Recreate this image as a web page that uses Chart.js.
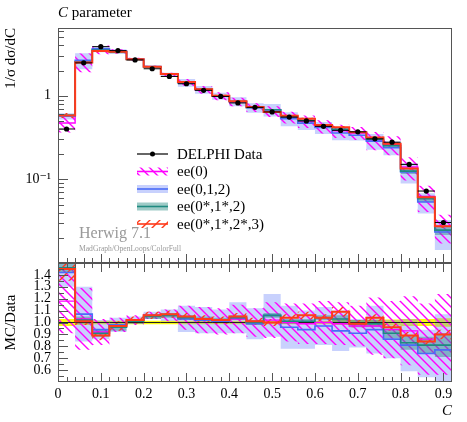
<!DOCTYPE html>
<html>
<head>
<meta charset="utf-8">
<script src="https://cdn.jsdelivr.net/npm/chart.js@4.4.1/dist/chart.umd.min.js"></script>
<style>
html, body { margin: 0; padding: 0; background: #fff; }
#wrap { position: relative; width: 467px; height: 422px; }
#wrap canvas { position: absolute; left: 0; top: 0; }
</style>
</head>
<body>
<div id="wrap">
  <canvas id="mainChart" width="467" height="422"></canvas>
  <canvas id="ratioChart" width="467" height="422"></canvas>
</div>
<script>
// bins of the C parameter histogram
const binEdges = [0, 0.04, 0.08, 0.12, 0.16, 0.20, 0.24, 0.28, 0.32, 0.36, 0.40, 0.44,
                  0.48, 0.52, 0.56, 0.60, 0.64, 0.68, 0.72, 0.76, 0.80, 0.84, 0.88, 0.92];
const xTickLabels = [0, 0.1, 0.2, 0.3, 0.4, 0.5, 0.6, 0.7, 0.8, 0.9];
const mainTickLabels = [0.1, 1];
const ratioTickLabels = [0.6, 0.7, 0.8, 0.9, 1.0, 1.1, 1.2, 1.3, 1.4];

// DELPHI data, 1/sigma dsigma/dC, and relative error
const delphi = [0.40, 2.47, 3.86, 3.46, 2.68, 2.10, 1.70, 1.39, 1.16, 0.98, 0.82, 0.726,
                0.64, 0.555, 0.50, 0.43, 0.385, 0.37, 0.305, 0.278, 0.151, 0.0725, 0.0305];
const delphiErr = [0.03, 0.02, 0.015, 0.015, 0.015, 0.015, 0.015, 0.015, 0.015, 0.015, 0.015, 0.015,
                   0.015, 0.015, 0.015, 0.015, 0.02, 0.02, 0.025, 0.025, 0.03, 0.03, 0.035];

// MC / Data ratios and their band half widths
const ee0 = [1.18, 1.03, 0.92, 0.98, 1.02, 1.06, 1.06, 1.04, 1.02, 1.01, 1.03, 1.00,
             1.02, 1.00, 0.99, 1.00, 0.99, 0.97, 0.97, 0.94, 0.93, 0.86, 0.90];
const ee0Err = [0.27, 0.26, 0.11, 0.06, 0.04, 0.03, 0.05, 0.10, 0.11, 0.11, 0.12, 0.12,
                0.15, 0.16, 0.17, 0.18, 0.18, 0.17, 0.24, 0.24, 0.29, 0.30, 0.34];
const ee012 = [1.42, 1.07, 0.94, 0.98, 1.02, 1.06, 1.06, 1.03, 1.02, 1.01, 1.04, 0.99,
               1.06, 0.96, 0.94, 0.97, 0.93, 0.91, 0.94, 0.86, 0.81, 0.74, 0.77];
const ee012Err = [0.12, 0.23, 0.08, 0.06, 0.03, 0.03, 0.05, 0.11, 0.11, 0.10, 0.13, 0.13,
                  0.18, 0.18, 0.16, 0.16, 0.17, 0.12, 0.20, 0.16, 0.22, 0.20, 0.30];
const ee012s = [1.46, 1.02, 0.91, 0.96, 1.01, 1.05, 1.06, 1.04, 1.03, 1.02, 1.04, 1.00,
                1.06, 1.01, 1.01, 1.04, 1.03, 0.99, 0.99, 0.91, 0.83, 0.81, 0.81];
const ee012sErr = [0.04, 0.03, 0.03, 0.03, 0.02, 0.02, 0.02, 0.02, 0.02, 0.02, 0.02, 0.02,
                   0.02, 0.02, 0.02, 0.02, 0.03, 0.03, 0.03, 0.04, 0.06, 0.07, 0.10];
const ee0123 = [1.45, 1.01, 0.89, 0.97, 1.02, 1.06, 1.07, 1.05, 1.03, 1.02, 1.05, 1.01,
                1.00, 1.04, 1.06, 1.04, 1.09, 0.99, 1.04, 0.96, 0.89, 0.84, 0.90];
const ee0123Err = [0.10, 0.03, 0.04, 0.04, 0.03, 0.03, 0.03, 0.03, 0.03, 0.03, 0.03, 0.03,
                   0.03, 0.03, 0.03, 0.03, 0.04, 0.03, 0.03, 0.03, 0.03, 0.03, 0.04];

const FONT = "'Liberation Serif', 'DejaVu Serif', serif";
const magenta = '#ff00ff';
const blue = '#4a6cf7';
const blueBand = 'rgba(110, 135, 250, 0.38)';
const teal = '#1e8a80';
const tealBand = 'rgba(40, 140, 130, 0.45)';
const red = '#ff3a1a';

function hatch(ctx, color, dir, size, lw) {
    const c = document.createElement('canvas');
    c.width = size; c.height = size;
    const g = c.getContext('2d');
    g.strokeStyle = color;
    g.lineWidth = lw;
    g.beginPath();
    if (dir > 0) { // "/"
        g.moveTo(0, size); g.lineTo(size, 0);
        g.moveTo(-2, 2); g.lineTo(2, -2);
        g.moveTo(size - 2, size + 2); g.lineTo(size + 2, size - 2);
    } else { // "\"
        g.moveTo(0, 0); g.lineTo(size, size);
        g.moveTo(-2, size - 2); g.lineTo(2, size + 2);
        g.moveTo(size - 2, -2); g.lineTo(size + 2, 2);
    }
    g.stroke();
    return ctx.createPattern(c, 'repeat');
}

// step outline: value held flat across each bin
function steps(vals) {
    const pts = [];
    vals.forEach((v, i) => {
        pts.push({ x: binEdges[i], y: v });
        pts.push({ x: binEdges[i + 1], y: v });
    });
    return pts;
}

function stepLine(vals, color, width) {
    return { data: steps(vals), borderColor: color, borderWidth: width, pointRadius: 0, fill: false };
}

function band(centre, err, scale, fillStyle) {
    const hi = centre.map((c, i) => (c + err[i]) * scale[i]);
    const lo = centre.map((c, i) => (c - err[i]) * scale[i]);
    return [
        { data: steps(hi), borderColor: 'rgba(0,0,0,0)', borderWidth: 0, pointRadius: 0, fill: false },
        { data: steps(lo), borderColor: 'rgba(0,0,0,0)', borderWidth: 0, pointRadius: 0, fill: '-1', backgroundColor: fillStyle }
    ];
}

function dataBars(vals) {
    const pts = [];
    vals.forEach((v, i) => {
        const c = (binEdges[i] + binEdges[i + 1]) / 2;
        pts.push({ x: binEdges[i], y: v }, { x: c, y: v, dot: true }, { x: binEdges[i + 1], y: v }, { x: binEdges[i + 1], y: null });
    });
    return pts;
}

// rivet style frame with inward ticks
const frameTicks = {
    id: 'frameTicks',
    afterDraw(chart, args, opts) {
        const { ctx, chartArea: a, scales: { x, y } } = chart;
        ctx.save();
        ctx.strokeStyle = '#555';
        ctx.lineWidth = 1;
        ctx.strokeRect(Math.round(a.left) + 0.5, Math.round(a.top) + 0.5, Math.round(a.width) - 1, Math.round(a.height) - 1);
        const tick = (list, len, horiz) => {
            list.forEach(v => {
                if (horiz) {
                    const px = Math.round(x.getPixelForValue(v)) + 0.5;
                    ctx.beginPath();
                    ctx.moveTo(px, a.bottom); ctx.lineTo(px, a.bottom - len);
                    if (opts.topTicks) { ctx.moveTo(px, a.top); ctx.lineTo(px, a.top + len); }
                    ctx.stroke();
                } else {
                    const py = Math.round(y.getPixelForValue(v)) + 0.5;
                    ctx.beginPath();
                    ctx.moveTo(a.left, py); ctx.lineTo(a.left + len, py);
                    ctx.stroke();
                }
            });
        };
        tick(opts.xMajor, 9, true);
        tick(opts.xMinor, 5, true);
        tick(opts.yMajor, 10, false);
        tick(opts.yMinor, 6, false);
        ctx.restore();
    }
};

const xMinor = [];
for (let k = 1; k < 46; k++) if (k % 5) xMinor.push(k * 0.02);
const logMinor = [];
[0.01, 0.1, 1].forEach(d => { for (let m = 2; m <= 9; m++) if (d * m < 6.45) logMinor.push(d * m); });
const ratioMinor = [0.55, 0.65, 0.75, 0.85, 0.95, 1.05, 1.15, 1.25, 1.35, 1.45];

const mainCtx = document.getElementById('mainChart').getContext('2d');
const ratioCtx = document.getElementById('ratioChart').getContext('2d');
const magHatchMain = hatch(mainCtx, magenta, -1, 9, 1.4);
const redHatchMain = hatch(mainCtx, red, 1, 10, 1.4);
const magHatchRatio = hatch(ratioCtx, magenta, -1, 9, 1.4);
const redHatchRatio = hatch(ratioCtx, red, 1, 10, 1.4);

const mcOf = r => r.map((v, i) => v * delphi[i]);

const errorBars = {
    id: 'errorBars',
    afterDatasetsDraw(chart) {
        const { ctx, scales: { x, y } } = chart;
        ctx.save();
        ctx.strokeStyle = '#000';
        ctx.lineWidth = 1;
        delphi.forEach((d, i) => {
            const px = x.getPixelForValue((binEdges[i] + binEdges[i + 1]) / 2);
            ctx.beginPath();
            ctx.moveTo(px, y.getPixelForValue(d * (1 - delphiErr[i])));
            ctx.lineTo(px, y.getPixelForValue(d * (1 + delphiErr[i])));
            ctx.stroke();
        });
        ctx.restore();
    }
};

const legendAndText = {
    id: 'legendAndText',
    afterDraw(chart) {
        const ctx = chart.ctx;
        ctx.save();
        // title
        ctx.fillStyle = '#000';
        ctx.textBaseline = 'alphabetic';
        ctx.font = 'italic 15px ' + FONT;
        ctx.fillText('C', 58, 17);
        const w = ctx.measureText('C').width;
        ctx.font = '15px ' + FONT;
        ctx.fillText(' parameter', 58 + w, 17);

        const x0 = 137, x1 = 168, tx = 177;
        const rows = [
            { text: 'DELPHI Data', kind: 'data' },
            { text: 'ee(0)', line: magenta, fill: magHatchMain },
            { text: 'ee(0,1,2)', line: blue, fill: blueBand },
            { text: 'ee(0*,1*,2)', line: teal, fill: tealBand },
            { text: 'ee(0*,1*,2*,3)', line: red, fill: redHatchMain }
        ];
        rows.forEach((r, i) => {
            const yc = 154 + i * 17.5;
            if (r.kind === 'data') {
                ctx.strokeStyle = '#000';
                ctx.lineWidth = 1.2;
                ctx.beginPath(); ctx.moveTo(x0, yc); ctx.lineTo(x1, yc); ctx.stroke();
                ctx.fillStyle = '#000';
                ctx.beginPath(); ctx.arc((x0 + x1) / 2, yc, 2.5, 0, Math.PI * 2); ctx.fill();
            } else {
                ctx.fillStyle = r.fill;
                ctx.fillRect(x0, yc - 4, x1 - x0, 8);
                ctx.strokeStyle = r.line;
                ctx.lineWidth = 1.6;
                ctx.beginPath(); ctx.moveTo(x0, yc); ctx.lineTo(x1, yc); ctx.stroke();
            }
            ctx.fillStyle = '#000';
            ctx.font = '15px ' + FONT;
            ctx.textBaseline = 'middle';
            ctx.fillText(r.text, tx, yc + 1);
        });

        ctx.textBaseline = 'alphabetic';
        ctx.fillStyle = '#999';
        ctx.font = '16px ' + FONT;
        ctx.fillText('Herwig 7.1', 79, 238);
        ctx.font = '7.6px ' + FONT;
        ctx.fillText('MadGraph/OpenLoops/ColorFull', 79, 251);
        ctx.restore();
    }
};

const mainChart = new Chart(mainCtx, {
    type: 'line',
    data: {
        datasets: [
            { data: dataBars(delphi), borderColor: '#000', borderWidth: 1, backgroundColor: '#000', spanGaps: false,
              pointRadius: c => (c.raw && c.raw.dot ? 2.6 : 0), pointBorderWidth: 0, fill: false },
            stepLine(mcOf(ee0123), red, 2),
            stepLine(mcOf(ee012s), teal, 1.6),
            stepLine(mcOf(ee012), blue, 1.6),
            stepLine(mcOf(ee0), magenta, 1.4),
            ...band(ee0123, ee0123Err, delphi, redHatchMain),
            ...band(ee012s, ee012sErr, delphi, tealBand),
            ...band(ee0, ee0Err, delphi, magHatchMain),
            ...band(ee012, ee012Err, delphi, blueBand)
        ]
    },
    options: {
        responsive: false,
        animation: false,
        layout: { padding: { top: 28, right: 15, bottom: 159, left: 0 } },
        elements: { line: { tension: 0 } },
        plugins: {
            legend: { display: false },
            tooltip: { enabled: false },
            frameTicks: { xMajor: xTickLabels, xMinor: xMinor, yMajor: [0.01, 0.1, 1], yMinor: logMinor, topTicks: false }
        },
        scales: {
            x: { type: 'linear', min: 0, max: 0.92, display: false },
            y: {
                type: 'logarithmic', min: 0.01, max: 6.45,
                grid: { display: false, drawTicks: false }, border: { display: false },
                afterBuildTicks: s => { s.ticks = mainTickLabels.map(v => ({ value: v })); },
                afterFit: s => { s.width = 58; },
                ticks: {
                    autoSkip: false, padding: 7, color: '#000',
                    font: { family: FONT, size: 14 },
                    callback: v => (v === 1 ? '1' : '10\u207B\u00B9')
                },
                title: { display: true, text: '1/\u03C3 d\u03C3/dC', align: 'end', color: '#000',
                         font: { family: FONT, size: 15 }, padding: { top: 2, bottom: 0 } }
            }
        }
    },
    plugins: [frameTicks, errorBars, legendAndText]
});

const ones = delphi.map(d => d / d);

const ratioChart = new Chart(ratioCtx, {
    type: 'line',
    data: {
        datasets: [
            stepLine(ee0123, red, 2),
            stepLine(ee012s, teal, 1.6),
            stepLine(ee012, blue, 1.6),
            stepLine(ee0, magenta, 1.4),
            stepLine(ones, '#222', 1),
            ...band(ee0123, ee0123Err, ones, redHatchRatio),
            ...band(ee012s, ee012sErr, ones, tealBand),
            ...band(ee0, ee0Err, ones, magHatchRatio),
            ...band(ee012, ee012Err, ones, blueBand),
            ...band(ones, delphiErr, ones, 'rgba(250, 250, 0, 0.95)')
        ]
    },
    options: {
        responsive: false,
        animation: false,
        layout: { padding: { top: 263, right: 15, bottom: 0, left: 0 } },
        elements: { line: { tension: 0 } },
        plugins: {
            legend: { display: false },
            tooltip: { enabled: false },
            frameTicks: { xMajor: xTickLabels, xMinor: xMinor, yMajor: ratioTickLabels, yMinor: ratioMinor, topTicks: true }
        },
        scales: {
            x: {
                type: 'linear', min: 0, max: 0.92,
                grid: { display: false, drawTicks: false }, border: { display: false },
                afterBuildTicks: s => { s.ticks = xTickLabels.map(v => ({ value: v })); },
                afterFit: s => { s.height = 40; },
                ticks: {
                    autoSkip: false, maxRotation: 0, padding: 4, color: '#000',
                    font: { family: FONT, size: 14 },
                    callback: v => (v === 0 ? '0' : v.toFixed(1))
                },
                title: { display: true, text: 'C', align: 'end', color: '#000',
                         font: { family: FONT, size: 15, style: 'italic' }, padding: { top: 0, bottom: 2 } }
            },
            y: {
                type: 'linear', min: 0.5, max: 1.5,
                grid: { display: false, drawTicks: false }, border: { display: false },
                afterBuildTicks: s => { s.ticks = ratioTickLabels.map(v => ({ value: v })); },
                afterFit: s => { s.width = 58; },
                ticks: {
                    autoSkip: false, padding: 7, color: '#000',
                    font: { family: FONT, size: 14 },
                    callback: v => v.toFixed(1)
                },
                title: { display: true, text: 'MC/Data', color: '#000',
                         font: { family: FONT, size: 15 }, padding: { top: 2, bottom: 0 } }
            }
        }
    },
    plugins: [frameTicks]
});
</script>
</body>
</html>
